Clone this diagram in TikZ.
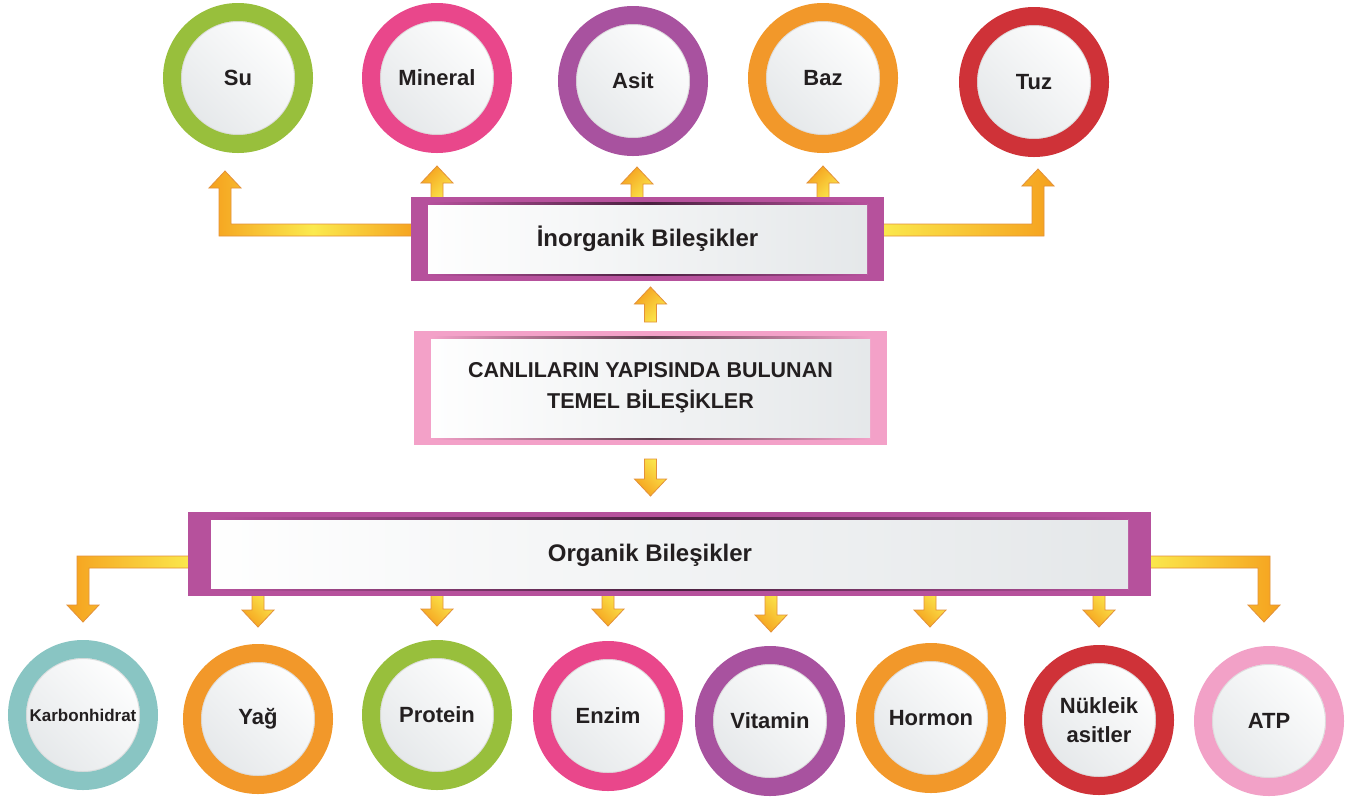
\documentclass[tikz,border=0pt]{standalone}
\usepackage{fontspec}
\setmainfont{Liberation Sans}
\usetikzlibrary{calc}

\definecolor{cgreen}{HTML}{98BF3C}
\definecolor{cpink}{HTML}{E9478B}
\definecolor{cpurple}{HTML}{A8529F}
\definecolor{corange}{HTML}{F2982A}
\definecolor{cred}{HTML}{CF3238}
\definecolor{cteal}{HTML}{89C5C3}
\definecolor{clight}{HTML}{F2A1C7}
\definecolor{boxpurple}{HTML}{B6519C}
\definecolor{boxpink}{HTML}{F3A1C8}
\definecolor{inkdark}{HTML}{231F20}
\definecolor{arrorange}{HTML}{F5A11E}
\definecolor{arryellow}{HTML}{FBEA4E}
\definecolor{arredge}{HTML}{E3913A}
\definecolor{paper}{HTML}{E4E7E9}

\pgfdeclarelayer{canvas}
\pgfdeclarelayer{background}
\pgfsetlayers{canvas,background,main}

\tikzset{
  ring/.style={circle, inner sep=0pt, minimum size=132pt, line width=18pt,
    outer sep=9pt, draw=#1, top color=white, bottom color=paper,
    shading angle=-45, text=inkdark, align=center,
    font=\bfseries\fontsize{22pt}{29pt}\selectfont,
    path picture={\draw[black!13, line width=1pt]
      (path picture bounding box.center) circle (56.5pt);}},
  panel/.style 2 args={rectangle, inner sep=0pt, outer sep=0pt, fill=#1,
    text=inkdark, align=center,
    path picture={
      \shade[left color=white, right color=paper]
        ([xshift=#2, yshift=7pt]path picture bounding box.south west) rectangle
        ([xshift=-#2, yshift=-7pt]path picture bounding box.north east);
      \shade[left color=#1, right color=#1, middle color=#1!40!black]
        ([xshift=#2, yshift=-7pt]path picture bounding box.north west) rectangle
        ([xshift=-#2, yshift=-5.8pt]path picture bounding box.north east);
      \shade[left color=#1, right color=#1, middle color=#1!40!black]
        ([xshift=#2, yshift=5.8pt]path picture bounding box.south west) rectangle
        ([xshift=-#2, yshift=7pt]path picture bounding box.south east);
    }},
  boxtext/.style={text=inkdark, inner sep=0pt, align=center},
  arrowbody/.style={draw=arredge, line width=0.8pt, line join=miter},
  upshade/.style={top color=arrorange, bottom color=arryellow, shading angle=45},
  downshade/.style={bottom color=arrorange, top color=arryellow, shading angle=-45},
}

% straight block arrow: #1 shading, #2 base, #3 tip (vertical)
\newcommand\blockarrow[3]{%
  \shade[arrowbody,#1] let \p1=(#2), \p2=(#3), \n2={sign(\y2-\y1)} in
    ({\x2-6pt},{\y1}) -- ({\x2-6pt},{\y2-(\n2)*17pt}) --
    ({\x2-16pt},{\y2-(\n2)*17pt}) -- (\x2,\y2) --
    ({\x2+16pt},{\y2-(\n2)*17pt}) -- ({\x2+6pt},{\y2-(\n2)*17pt}) --
    ({\x2+6pt},{\y1}) -- cycle;}

% elbow block arrow: horizontal from #2, then vertical to the tip #3
\newcommand\elbowarrow[3]{%
  \shade[arrowbody,#1] let \p1=(#2), \p2=(#3),
      \n1={sign(\x2-\x1)}, \n2={sign(\y2-\y1)} in
    ({\x1},{\y1-(\n2)*6pt}) --
    ({\x2+(\n1)*6pt},{\y1-(\n2)*6pt}) --
    ({\x2+(\n1)*6pt},{\y2-(\n2)*17pt}) --
    ({\x2+(\n1)*16pt},{\y2-(\n2)*17pt}) --
    (\x2,\y2) --
    ({\x2-(\n1)*16pt},{\y2-(\n2)*17pt}) --
    ({\x2-(\n1)*6pt},{\y2-(\n2)*17pt}) --
    ({\x2-(\n1)*6pt},{\y1+(\n2)*6pt}) --
    ({\x1},{\y1+(\n2)*6pt}) -- cycle;}

\begin{document}
\begin{tikzpicture}[x=1pt, y=-1pt]
\begin{pgfonlayer}{canvas}
  \fill[white] (0,0) rectangle (1352,801);
\end{pgfonlayer}
\useasboundingbox (0,0) rectangle (1352,801);

% inorganic compounds
\node[ring=cgreen]  (su)      at (238,78)  {Su};
\node[ring=cpink]   (mineral) at (437,78)  {Mineral};
\node[ring=cpurple] (asit)    at (633,81)  {Asit};
\node[ring=corange] (baz)     at (823,78)  {Baz};
\node[ring=cred]    (tuz)     at (1034,82) {Tuz};

% boxes
\node[panel={boxpurple}{17pt}, minimum width=473pt, minimum height=84pt,
      font=\bfseries\fontsize{24pt}{28pt}\selectfont]
  (inorg) at (647.5,239) {İnorganik Bileşikler};
\node[panel={boxpink}{17pt}, minimum width=473pt, minimum height=114pt,
      font=\bfseries\fontsize{21.5pt}{31pt}\selectfont]
  (cbox) at (650.5,388) {CANLILARIN YAPISINDA BULUNAN\\TEMEL BİLEŞİKLER};
\node[panel={boxpurple}{23pt}, minimum width=963pt, minimum height=84pt]
  (org) at (669.5,554) {};
\node[boxtext, font=\bfseries\fontsize{24pt}{28pt}\selectfont]
  (orgtext) at (650,555) {Organik Bileşikler};

% organic compounds
\node[ring=cteal, font=\bfseries\fontsize{17pt}{20pt}\selectfont]
                    (karb)    at (83,715)  {Karbonhidrat};
\node[ring=corange] (yag)     at (258,719) {Yağ};
\node[ring=cgreen]  (protein) at (437,715) {Protein};
\node[ring=cpink]   (enzim)   at (608,716) {Enzim};
\node[ring=cpurple] (vitamin) at (770,721) {Vitamin};
\node[ring=corange] (hormon)  at (931,718) {Hormon};
\node[ring=cred]    (nukleik) at (1099,720) {Nükleik\\asitler};
\node[ring=clight]  (atp)     at (1269,721) {ATP};

% arrow tips
\coordinate (tM) at ($(mineral.south)+(0,13)$);
\coordinate (tA) at ($(asit.south)+(4,11)$);
\coordinate (tB) at ($(baz.south)+(0,13)$);
\coordinate (tSu) at ($(su.south)+(-13,18)$);
\coordinate (tTuz) at ($(tuz.south)+(4,12)$);
\coordinate (tUp) at ($(inorg.south -| cbox.north)+(0,6)$);
\coordinate (tDown) at ($(org.north -| cbox.south)+(0,-16)$);
\coordinate (tKarb) at ($(karb.north)+(0,-18)$);
\coordinate (tYag) at ($(yag.north)+(0,-17)$);
\coordinate (tProt) at ($(protein.north)+(0,-14)$);
\coordinate (tEnz) at ($(enzim.north)+(0,-15)$);
\coordinate (tVit) at ($(vitamin.north)+(1,-14)$);
\coordinate (tHor) at ($(hormon.north)+(-1,-16)$);
\coordinate (tNuk) at ($(nukleik.north)+(0,-18)$);
\coordinate (tAtp) at ($(atp.north)+(-5,-24)$);

\begin{pgfonlayer}{background}
  % from the inorganic box up to its members
  \elbowarrow{left color=arrorange, right color=arrorange, middle color=arryellow}
    {$(inorg.west)+(6,-9)$}{tSu}
  \elbowarrow{left color=arryellow, right color=arrorange}
    {$(inorg.east)+(-6,-9)$}{tTuz}
  \blockarrow{upshade}{$(inorg.north -| tM)+(0,4)$}{tM}
  \blockarrow{upshade}{$(inorg.north -| tA)+(0,4)$}{tA}
  \blockarrow{upshade}{$(inorg.north -| tB)+(0,4)$}{tB}
  % from the central box
  \blockarrow{upshade}{$(cbox.north)+(0,-9)$}{tUp}
  \blockarrow{downshade}{$(cbox.south)+(0,14)$}{tDown}
  % from the organic box down to its members
  \elbowarrow{left color=arrorange, right color=arryellow}
    {$(org.west)+(6,8)$}{tKarb}
  \elbowarrow{left color=arryellow, right color=arrorange}
    {$(org.east)+(-6,8)$}{tAtp}
  \blockarrow{downshade}{$(org.south -| tYag)+(0,-4)$}{tYag}
  \blockarrow{downshade}{$(org.south -| tProt)+(0,-4)$}{tProt}
  \blockarrow{downshade}{$(org.south -| tEnz)+(0,-4)$}{tEnz}
  \blockarrow{downshade}{$(org.south -| tVit)+(0,-4)$}{tVit}
  \blockarrow{downshade}{$(org.south -| tHor)+(0,-4)$}{tHor}
  \blockarrow{downshade}{$(org.south -| tNuk)+(0,-4)$}{tNuk}
\end{pgfonlayer}
\end{tikzpicture}
\end{document}
